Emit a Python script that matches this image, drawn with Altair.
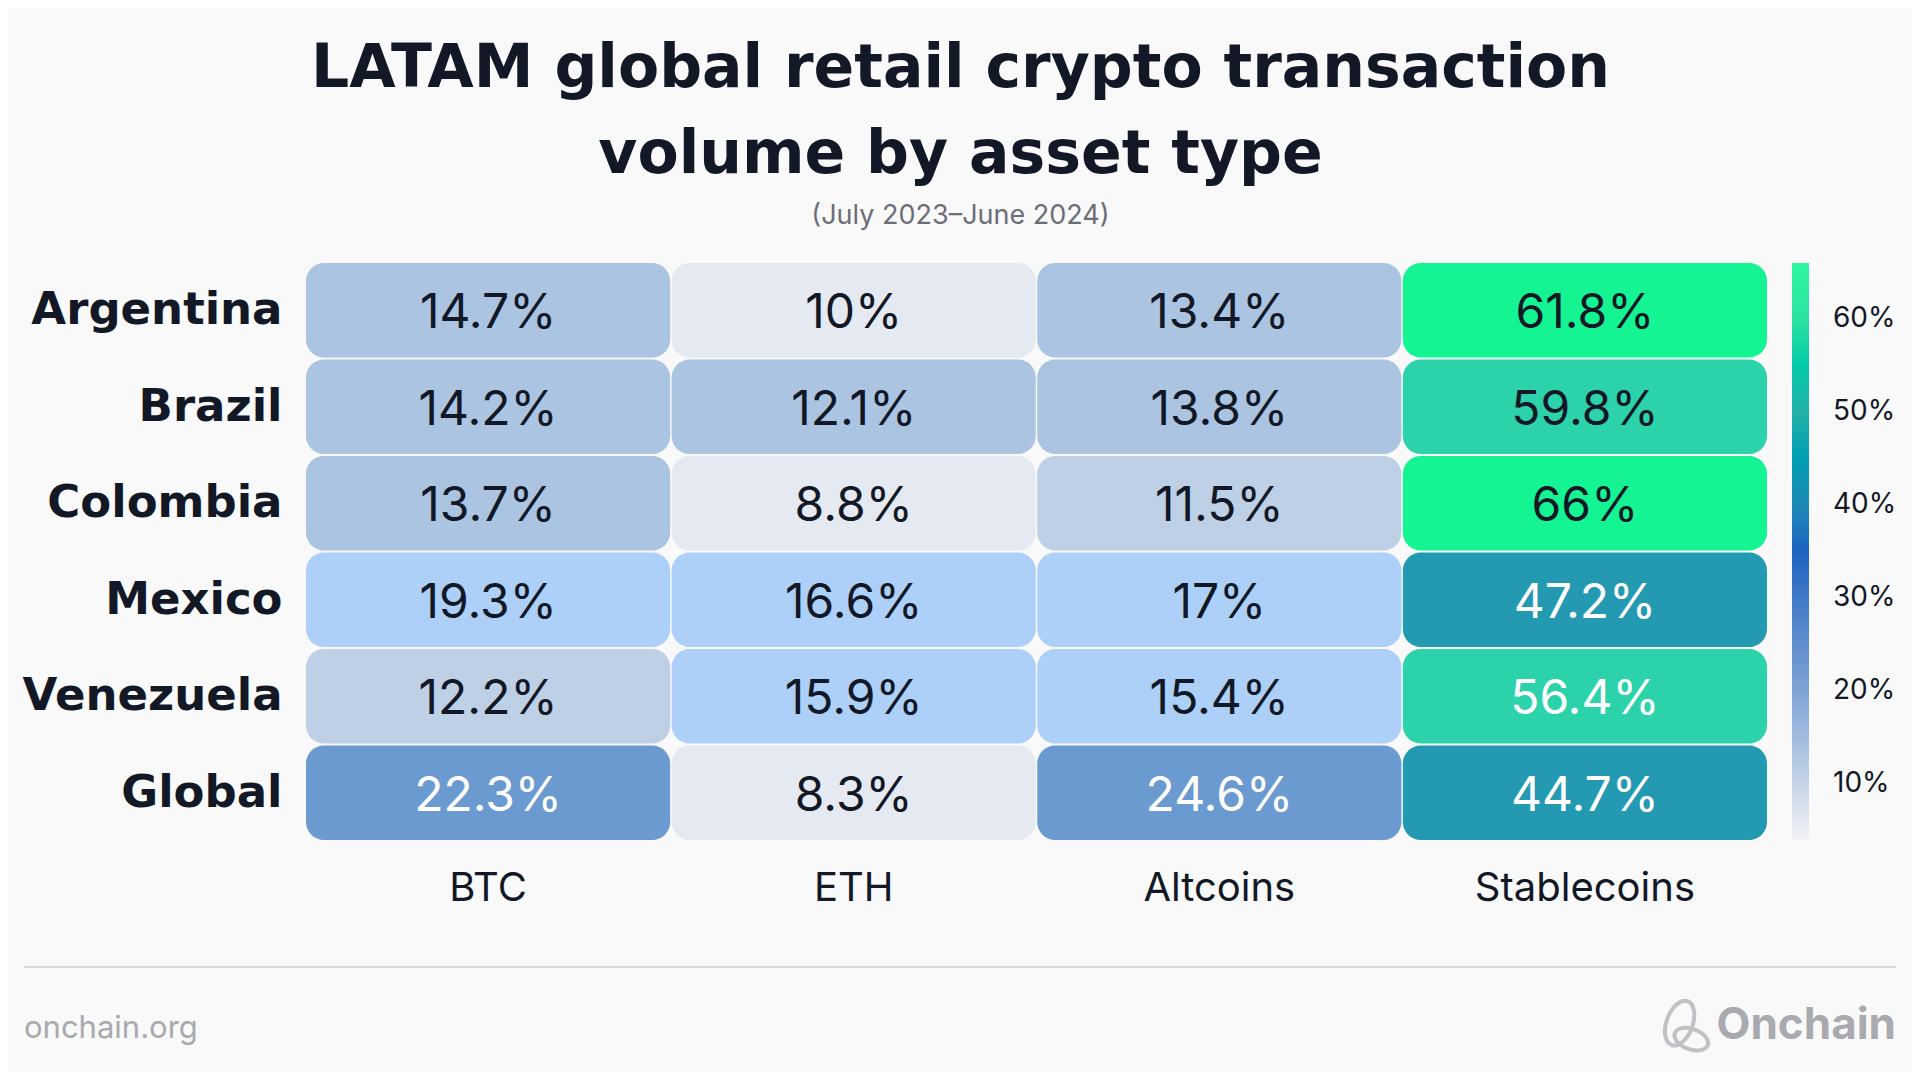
import altair as alt
import pandas as pd

countries = ["Argentina", "Brazil", "Colombia", "Mexico", "Venezuela", "Global"]
assets = ["BTC", "ETH", "Altcoins", "Stablecoins"]
btc = [14.7, 14.2, 13.7, 19.3, 12.2, 22.3]
eth = [10.0, 12.1, 8.8, 16.6, 15.9, 8.3]
alt_ = [13.4, 13.8, 11.5, 17.0, 15.4, 24.6]
stable = [61.8, 59.8, 66.0, 47.2, 56.4, 44.7]
legend_ticks = [10, 20, 30, 40, 50, 60]

rows = []
for a, vals in zip(assets, [btc, eth, alt_, stable]):
    for c, v in zip(countries, vals):
        rows.append({"country": c, "asset": a, "v": v,
                     "label": (f"{v:g}" if v != int(v) else f"{int(v)}") + "%"})
df = pd.DataFrame(rows)

FONT = "Inter"
HEAD = "DejaVu Sans"
DARK = "#121826"
BG = "#f9f9f9"

x_enc = alt.X("asset:N", sort=assets, title=None,
              scale=alt.Scale(paddingInner=0.004, paddingOuter=0),
              axis=alt.Axis(orient="bottom", labelFont=FONT, labelFontSize=40,
                            labelColor=DARK, labelPadding=28, ticks=False,
                            domain=False, labelAngle=0, labelLimit=0))
y_enc = alt.Y("country:N", sort=countries, title=None,
              scale=alt.Scale(paddingInner=0.02, paddingOuter=0),
              axis=alt.Axis(orient="left", labelFont=HEAD, labelFontSize=45,
                            labelFontWeight=700, labelColor=DARK,
                            labelPadding=24, ticks=False, domain=False,
                            labelLimit=0))

cells = alt.Chart(df).mark_rect(cornerRadius=18).encode(
    x=x_enc, y=y_enc,
    color=alt.Color("v:Q", legend=None, scale=alt.Scale(
        type="threshold",
        domain=[11, 12, 12.15, 12.25, 15, 20, 40, 50, 61],
        range=["#e5eaf2", "#bdd0e6", "#aac4e2", "#bdd0e6", "#aac4e2",
               "#add0f8", "#6a9ad0", "#2399b2", "#2cd3aa", "#14f492"])),
)

texts = alt.Chart(df).mark_text(font=FONT, fontSize=48, baseline="middle",
                                align="center", dy=4).encode(
    x=x_enc, y=y_enc, text="label:N",
    color=alt.condition("datum.v >= 20 && datum.v < 57",
                        alt.value("#ffffff"), alt.value(DARK)),
)

legend_layer = alt.Chart(df).mark_rect(opacity=0).encode(
    x=x_enc, y=y_enc,
    color=alt.Color("v:Q", scale=alt.Scale(
        domain=[4, 10, 20, 30, 35, 40, 50, 60, 66],
        range=["#f2f3f5", "#c6d5e9", "#7ea4d4", "#4079c8", "#1c63c2",
               "#1e8ab6", "#22b1a8", "#2de39f", "#2ff7a0"]),
        legend=alt.Legend(orient="none", legendX=1486, legendY=0,
                          direction="vertical", gradientLength=577,
                          gradientThickness=17, title=None,
                          values=legend_ticks, labelExpr="datum.value + '%'",
                          labelFont=FONT, labelFontSize=28, labelColor=DARK,
                          labelOffset=24, gradientStrokeWidth=0)),
)

one = alt.Data(values=[{"a": 1}])
footer_rule = alt.Chart(one).mark_rule(color="#dadada", strokeWidth=2).encode(
    x=alt.value(-282), x2=alt.value(1590), y=alt.value(704))
footer_left = alt.Chart(one).mark_text(
    text="onchain.org", font=FONT, fontSize=31, color="#a9a9b0",
    align="left", baseline="middle").encode(x=alt.value(-282), y=alt.value(766))
footer_right = alt.Chart(one).mark_text(
    text="Onchain", font=FONT, fontSize=44, fontWeight=700, color="#a9a9b0",
    align="right", baseline="middle").encode(x=alt.value(1590), y=alt.value(763))
logo_path = ("M -0.424 0.652 A 0.8 0.45 110 1 1 0.124 -0.852 "
             "A 0.8 0.45 110 1 1 -0.424 0.652 "
             "M 0.814 0.655 A 0.6 0.35 20 1 1 -0.314 0.245 "
             "A 0.6 0.35 20 1 1 0.814 0.655")
footer_logo = alt.Chart(one).mark_point(
    shape=logo_path, filled=False, stroke="#a9a9b0", strokeWidth=4,
    size=3400).encode(x=alt.value(1378), y=alt.value(763))

chart = alt.layer(
    cells, texts, legend_layer, footer_rule, footer_left, footer_right, footer_logo
).resolve_scale(color="independent").properties(
    width=1461, height=577,
    autosize=alt.AutoSizeParams(type="none"),
    padding={"left": 298, "top": 255, "right": 145, "bottom": 231},
    background=BG,
    title=alt.TitleParams(
        text=["LATAM global retail crypto transaction", "volume by asset type"],
        subtitle="(July 2023\u2013June 2024)",
        anchor="middle", frame="group", dx=-76, offset=33,
        font=HEAD, fontSize=60, fontWeight=700, color=DARK, lineHeight=86,
        subtitleFont=FONT, subtitleFontSize=27, subtitleColor="#6b6e78",
        subtitlePadding=17),
).configure_view(stroke=None)

chart.save("out.html", embed_options={"renderer": "svg", "actions": False})
